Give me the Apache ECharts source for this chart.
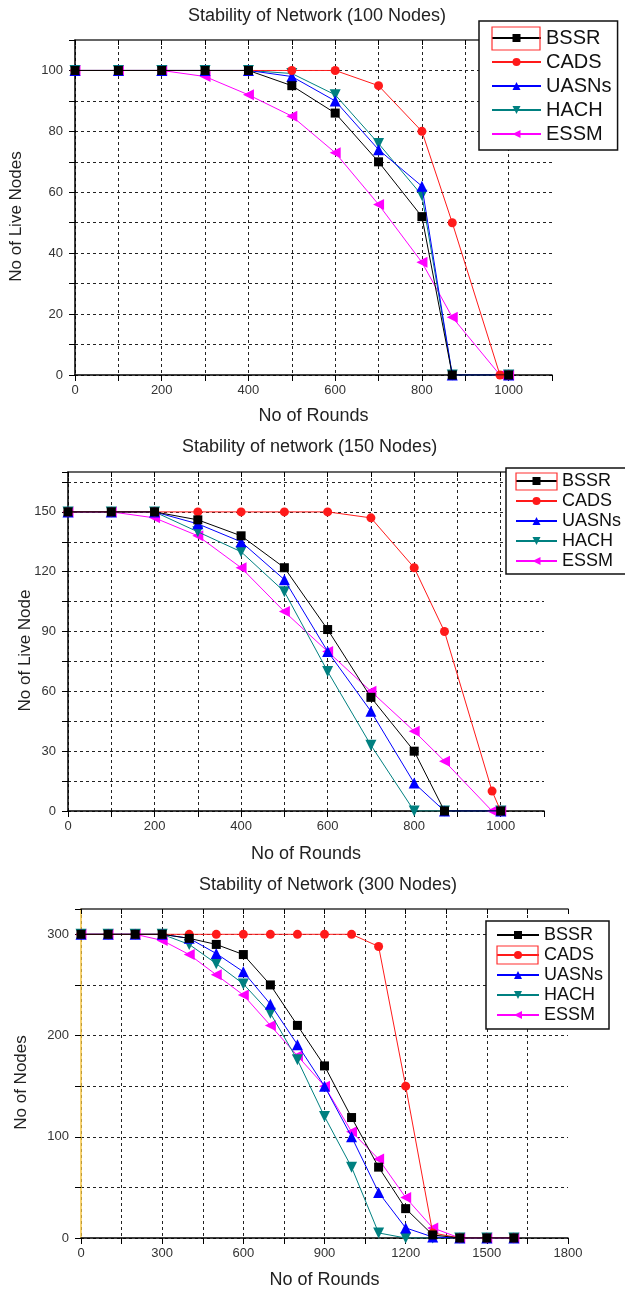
<!DOCTYPE html>
<html>
<head>
<meta charset="utf-8">
<script src="https://cdn.jsdelivr.net/npm/echarts/dist/echarts.min.js"></script>
<style>
  html, body { margin: 0; padding: 0; background: #fff; }
  .box { position: absolute; left: 0; width: 625px; }
</style>
</head>
<body>
<div id="c1" class="box" style="top:0;height:430px;"></div>
<div id="c2" class="box" style="top:430px;height:440px;"></div>
<div id="c3" class="box" style="top:870px;height:424px;"></div>
<script>
// ---- data: 100 nodes ----
const rounds100 = [0, 100, 200, 300, 400, 500, 600, 700, 800, 870, 980, 1000];
const bssr100  = [100, 100, 100, 100, 100, 95, 86, 70, 52, 0, null, 0];
const cads100  = [100, 100, 100, 100, 100, 100, 100, 95, 80, 50, 0, 0];
const uasns100 = [100, 100, 100, 100, 100, 98, 90, 74, 62, 0, null, 0];
const hach100  = [100, 100, 100, 100, 100, 99, 92, 76, 59, 0, null, 0];
const essm100  = [100, 100, 100, 98, 92, 85, 73, 56, 37, 19, 0, 0];

// ---- data: 150 nodes ----
const rounds150 = [0, 100, 200, 300, 400, 500, 600, 700, 800, 870, 980, 1000];
const bssr150  = [150, 150, 150, 146, 138, 122, 91, 57, 30, 0, null, 0];
const cads150  = [150, 150, 150, 150, 150, 150, 150, 147, 122, 90, 10, 0];
const uasns150 = [150, 150, 150, 144, 135, 116, 80, 50, 14, 0, null, 0];
const hach150  = [150, 150, 150, 140, 130, 110, 70, 33, 0, 0, null, 0];
const essm150  = [150, 150, 147, 138, 122, 100, 80, 60, 40, 25, 0, 0];

// ---- data: 300 nodes ----
const rounds300 = [0, 100, 200, 300, 400, 500, 600, 700, 800, 900, 1000, 1100, 1200, 1300, 1400, 1500, 1600];
const bssr300  = [300, 300, 300, 300, 296, 290, 280, 250, 210, 170, 119, 70, 29, 3, 0, 0, 0];
const cads300  = [300, 300, 300, 300, 300, 300, 300, 300, 300, 300, 300, 288, 150, 5, 0, 0, 0];
const uasns300 = [300, 300, 300, 300, 296, 281, 263, 231, 191, 150, 100, 45, 10, 1, 0, 0, 0];
const hach300  = [300, 300, 300, 300, 290, 271, 251, 222, 176, 120, 70, 5, 0, 0, 0, 0, 0];
const essm300  = [300, 300, 300, 294, 280, 260, 240, 210, 180, 150, 105, 78, 40, 10, 0, 0, 0];

const names = ['BSSR', 'CADS', 'UASNs', 'HACH', 'ESSM'];

// line colour / marker per method
const looks = {
  BSSR:  { color: '#000000', symbol: 'rect', rotate: 0, size: 9 },
  CADS:  { color: '#ff1a1a', symbol: 'circle', rotate: 0, size: 9 },
  UASNs: { color: '#0000ff', symbol: 'triangle', rotate: 0, size: 11 },
  HACH:  { color: '#008080', symbol: 'triangle', rotate: 180, size: 11 },
  ESSM:  { color: '#ff00ff', symbol: 'triangle', rotate: 90, size: 11 }
};

const FONT = '"Liberation Sans", Arial, sans-serif';

function pairs(xs, ys) {
  const out = [];
  xs.forEach((x, i) => { if (ys[i] != null) out.push([x, ys[i]]); });
  return out;
}

function buildOption(cfg) {
  const dash = { show: true, showMaxLine: false, lineStyle: { color: '#222', type: [3, 3], width: 1 } };
  const series = names.map((n, i) => ({
    name: n,
    type: 'line',
    data: pairs(cfg.x, cfg.ys[i]),
    symbol: looks[n].symbol,
    symbolSize: looks[n].size,
    symbolRotate: looks[n].rotate,
    lineStyle: { color: looks[n].color, width: 1 },
    itemStyle: { color: looks[n].color },
    z: 10 - i
  }));

  return {
    animation: false,
    textStyle: { fontFamily: FONT },
    title: {
      text: cfg.title,
      left: cfg.titleLeft,
      top: cfg.titleTop,
      padding: 0,
      textStyle: { fontFamily: FONT, fontSize: 18, fontWeight: 'normal', color: '#222' }
    },
    legend: {
      data: names,
      orient: 'vertical',
      left: cfg.legend.left,
      top: cfg.legend.top,
      padding: cfg.legend.padding,
      itemWidth: cfg.legend.iconW,
      itemHeight: 10,
      itemGap: cfg.legend.gap,
      borderColor: '#111',
      borderWidth: 1.5,
      backgroundColor: '#fff',
      selectedMode: false,
      textStyle: { fontFamily: FONT, fontSize: cfg.legend.font, color: '#111' }
    },
    grid: cfg.grid,
    xAxis: [
      {
        type: 'value',
        min: 0, max: cfg.xMax, interval: cfg.xStep,
        name: 'No of Rounds',
        nameLocation: 'middle',
        nameGap: cfg.xNameGap,
        nameTextStyle: { fontFamily: FONT, fontSize: 18, color: '#222' },
        axisLine: { lineStyle: { color: '#000', width: 1.5 } },
        axisTick: { length: 6, lineStyle: { color: '#000' } },
        axisLabel: {
          margin: 9, color: '#333', fontSize: 13, fontFamily: FONT,
          formatter: v => (v % cfg.xLabelStep === 0 ? v : '')
        },
        splitLine: dash
      },
      {
        type: 'value', position: 'top',
        min: 0, max: cfg.xMax, interval: cfg.xStep,
        axisLine: { lineStyle: { color: '#333', width: 1.5 } },
        axisTick: { inside: true, length: 5, lineStyle: { color: '#000' } },
        axisLabel: { show: false },
        splitLine: { show: false }
      }
    ],
    yAxis: {
      type: 'value',
      min: 0, max: cfg.yMax, interval: cfg.yStep,
      name: cfg.yName,
      nameLocation: 'middle',
      nameGap: cfg.yNameGap,
      nameMoveOverlap: false,
      // push the rotated name a bit lower, like the original
      nameTextStyle: { fontFamily: FONT, fontSize: 17, color: '#222', padding: [0, 18, 0, 0] },
      axisLine: { show: true, lineStyle: { color: cfg.yLineColor, width: 1.5 } },
      axisTick: { show: true, length: 6, lineStyle: { color: '#000' } },
      axisLabel: {
        margin: 12, color: '#333', fontSize: 13, fontFamily: FONT,
        formatter: v => (v % cfg.yLabelStep === 0 ? v : '')
      },
      splitLine: dash
    },
    // red "selected" frame that Origin leaves round one legend icon
    graphic: [{
      type: 'rect',
      shape: cfg.redBox,
      style: { fill: 'none', stroke: '#ff3030', lineWidth: 1.2 },
      z: 100
    }],
    series: series
  };
}

const chart1 = echarts.init(document.getElementById('c1'));
chart1.setOption(buildOption({
  title: 'Stability of Network (100 Nodes)', titleLeft: 188, titleTop: 7,
  grid: { left: 74, top: 40, right: 73, bottom: 53 },
  x: rounds100, ys: [bssr100, cads100, uasns100, hach100, essm100],
  xMax: 1100, xStep: 100, xLabelStep: 200, xNameGap: 32,
  yMax: 110, yStep: 10, yLabelStep: 20, yName: 'No of Live Nodes', yNameGap: 50,
  yLineColor: '#000',
  legend: { left: 479, top: 21, padding: [7, 6, 6, 12], iconW: 49, gap: 4, font: 20 },
  redBox: { x: 492, y: 27, width: 48, height: 23 }
}));

const chart2 = echarts.init(document.getElementById('c2'));
chart2.setOption(buildOption({
  title: 'Stability of network (150 Nodes)', titleLeft: 182, titleTop: 8,
  grid: { left: 68, top: 42, right: 81, bottom: 59 },
  x: rounds150, ys: [bssr150, cads150, uasns150, hach150, essm150],
  xMax: 1100, xStep: 100, xLabelStep: 200, xNameGap: 34,
  yMax: 170, yStep: 15, yLabelStep: 30, yName: 'No of Live Node', yNameGap: 34,
  yLineColor: '#000',
  legend: { left: 506, top: 38, padding: [4, 6, 4, 9], iconW: 41, gap: 2, font: 18 },
  redBox: { x: 516, y: 43, width: 41, height: 17 }
}));

const chart3 = echarts.init(document.getElementById('c3'));
chart3.setOption(buildOption({
  title: 'Stability of Network (300 Nodes)', titleLeft: 199, titleTop: 6,
  grid: { left: 81, top: 39, right: 57, bottom: 53 },
  x: rounds300, ys: [bssr300, cads300, uasns300, hach300, essm300],
  xMax: 1800, xStep: 150, xLabelStep: 300, xNameGap: 33,
  yMax: 325, yStep: 50, yLabelStep: 100, yName: 'No of Nodes', yNameGap: 51,
  yLineColor: '#f5c542',
  legend: { left: 486, top: 51, padding: [5, 6, 5, 10], iconW: 42, gap: 2, font: 18 },
  redBox: { x: 497, y: 76, width: 41, height: 18 }
}));
</script>
</body>
</html>
